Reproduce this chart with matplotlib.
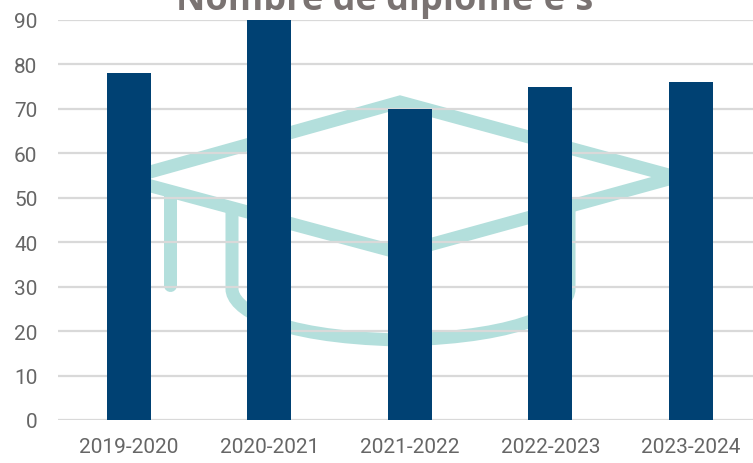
import matplotlib
matplotlib.use('Agg')
import matplotlib.pyplot as plt
from matplotlib.patches import PathPatch
from matplotlib.path import Path
from matplotlib.transforms import Affine2D

# données
annees = ['2019-2020', '2020-2021', '2021-2022', '2022-2023', '2023-2024']
diplomes = [78, 90, 70, 75, 76]
graduations = [0, 10, 20, 30, 40, 50, 60, 70, 80, 90]

W, H = 753, 464
plt.rcParams['font.family'] = ['Open Sans', 'DejaVu Sans']

fig = plt.figure(figsize=(W / 100, H / 100), dpi=100)
# l'axe dépasse à droite de l'image, comme dans l'original
ax = fig.add_axes([58.3 / W, 1 - 421 / H, 703 / W, 400 / H])

ax.bar(annees, diplomes, width=0.313, color='#004173', zorder=3)

ax.set_xlim(-0.5, 4.5)
ax.set_ylim(0, 90)
ax.set_yticks(graduations)
ax.grid(axis='y', color='#d9d9d9', linewidth=1.6, zorder=2)
ax.set_axisbelow(False)
ax.tick_params(axis='both', length=0, labelsize=15, labelcolor='#666666', labelfontfamily='Roboto')
ax.tick_params(axis='x', pad=12)
ax.tick_params(axis='y', pad=15)
for s in ax.spines.values():
    s.set_visible(False)

# icône de toge en fond (coordonnées en pixels de l'image)
px = Affine2D().scale(1 / W, -1 / H).translate(0, 1) + fig.transFigure
teal = '#b3dfdc'
lw = 13 * 0.72
chapeau = Path([(125, 180), (400, 103), (676, 178), (400, 254), (125, 180)])
gland = Path([(170, 196), (170, 286)])
corps = Path([(232, 208), (232, 290), (232, 308), (270, 338), (400, 341),
              (530, 338), (569, 308), (569, 290), (569, 210)],
             [Path.MOVETO, Path.LINETO, Path.CURVE4, Path.CURVE4, Path.CURVE4,
              Path.CURVE4, Path.CURVE4, Path.CURVE4, Path.LINETO])
for p, cap in [(chapeau, 'butt'), (gland, 'round'), (corps, 'butt')]:
    ax.add_patch(PathPatch(p, fill=False, edgecolor=teal, linewidth=lw, capstyle=cap,
                           joinstyle='miter', transform=px, zorder=1, clip_on=False))

fig.text(385 / W, 1 - 10 / H, 'Nombre de diplômé·e·s', ha='center', va='baseline',
         fontsize=26, fontweight='bold', color='#7a7372')

plt.savefig('out.png', dpi=100)
